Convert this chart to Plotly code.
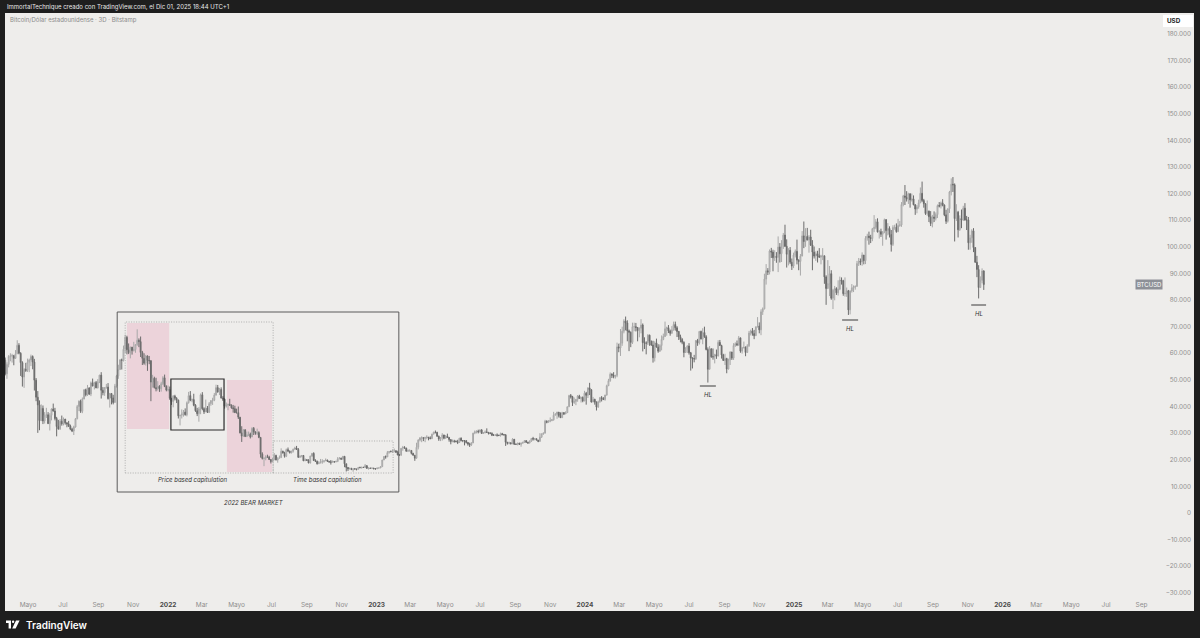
import pandas as pd
import plotly.graph_objects as go

# ---------------- DATA (BTC/USD, Bitstamp, 3-day candles, values in thousands USD) -------------
first_open = 58.2

close_2021 = [57.4, 52.3, 55.8, 58.8, 59.0,
              59.1, 58.1, 59.8, 63.0, 60.0, 56.5, 51.1, 54.0, 53.6, 56.6,
              57.5, 58.8, 56.7, 49.9, 43.5, 40.6, 34.7, 39.3, 34.6, 36.7,
              36.9, 33.6, 36.7, 39.1, 38.3, 35.5, 32.5, 31.6, 34.5, 33.5,
              35.3, 33.9, 33.5, 32.7, 31.5, 30.8, 32.3, 35.4, 40.0, 42.0,
              38.2, 42.8, 46.3, 44.4, 47.0, 44.7, 48.9, 47.7, 49.0, 47.0, 49.3,
              51.8, 46.1, 45.2, 47.1, 47.3, 43.0, 44.9, 43.2, 41.5, 47.7,
              51.5, 53.9, 57.5, 57.4, 61.5, 66.0, 61.3, 60.3, 62.3, 61.0,
              61.4, 63.3, 64.9, 64.4, 60.3, 58.1, 56.3, 59.0, 57.3, 57.2,
              49.2, 50.6, 47.1, 46.7, 47.6, 46.7, 48.6, 50.8, 47.5, 46.2]
high_2021 = [59.5, 58.4, 56.6, 59.3, 60.0,
             59.8, 59.4, 61.2, 64.9, 63.8, 60.4, 57.0, 54.4, 56.4, 58.0,
             58.0, 59.5, 59.2, 57.9, 50.7, 45.8, 42.3, 40.8, 40.4, 37.9,
             39.5, 37.9, 37.5, 39.3, 41.1, 39.5, 36.1, 35.0, 35.3, 36.6,
             35.9, 35.1, 34.0, 34.6, 33.2, 32.0, 32.8, 35.7, 40.6, 42.3,
             42.6, 43.4, 46.5, 46.7, 48.1, 47.2, 49.4, 50.5, 49.3, 49.6, 50.3,
             51.9, 52.9, 47.3, 47.2, 48.5, 48.8, 45.1, 45.0, 44.4, 48.5,
             51.9, 55.7, 57.8, 58.0, 62.9, 67.0, 66.6, 63.7, 62.5, 62.4,
             64.3, 63.3, 69.0, 65.6, 66.3, 60.9, 60.0, 59.4, 59.2, 59.0,
             57.4, 51.9, 51.2, 50.8, 49.5, 48.0, 49.3, 51.4, 52.0, 48.0]
low_2021 = [56.3, 51.7, 50.4, 54.7, 57.0,
            56.5, 55.5, 57.9, 59.9, 59.6, 51.5, 47.5, 47.0, 53.0, 53.0,
            52.9, 55.2, 54.0, 46.0, 42.0, 30.1, 31.1, 34.6, 33.4, 33.6,
            35.7, 33.4, 31.0, 34.8, 38.1, 34.8, 28.8, 31.3, 31.2, 32.8,
            32.9, 33.2, 32.2, 32.3, 31.1, 30.4, 29.3, 32.1, 35.2, 38.3,
            37.6, 37.5, 42.8, 43.8, 44.0, 44.3, 43.9, 47.6, 46.4, 46.9, 46.8,
            48.8, 43.0, 44.2, 44.0, 46.7, 42.6, 39.6, 40.8, 40.8, 41.5,
            47.1, 50.4, 53.7, 53.9, 56.9, 60.1, 59.6, 59.7, 58.1, 59.5,
            60.7, 60.2, 62.8, 62.3, 58.6, 55.6, 55.7, 55.4, 53.4, 55.9,
            42.0, 47.1, 46.8, 45.7, 46.0, 45.5, 45.6, 48.1, 47.3, 45.7]

close_2022 = [46.4, 43.1, 41.9, 43.9, 43.1, 42.4, 36.5, 36.7, 37.2, 37.9, 36.9,
              41.4, 44.1, 42.4, 42.6, 40.5, 38.4, 37.3, 39.1, 44.4,
              39.2, 38.0, 39.4, 37.8, 41.1, 42.2, 42.4, 44.3, 47.1, 45.5,
              46.4, 43.2, 42.8, 40.1, 40.5, 40.8, 40.5, 39.5, 39.2, 37.7,
              37.7, 36.0, 30.1, 28.9, 31.3, 28.7, 29.4, 29.6, 28.6, 31.8, 30.5,
              29.9, 30.2, 28.4, 22.1, 20.5, 20.6, 21.1, 21.0, 20.1, 19.3,
              20.2, 21.6, 19.9, 20.6, 20.8, 23.2, 22.5, 21.3, 23.8, 23.3,
              22.6, 23.2, 23.9, 24.4, 23.9, 20.9, 21.4, 21.6, 19.6, 20.0,
              19.8, 18.8, 21.4, 22.4, 19.7, 19.4, 18.5, 18.9, 19.1, 19.4,
              19.6, 19.9, 19.4, 19.2, 19.1, 19.3, 19.2, 19.3, 20.3, 20.6, 20.2,
              21.3, 18.5, 17.1, 16.6, 16.7, 16.3, 16.6, 16.5, 16.4, 17.1,
              17.0, 17.2, 17.1, 17.8, 16.8, 16.9, 16.8, 16.9, 16.6, 16.6]
high_2022 = [47.9, 47.5, 43.1, 44.3, 44.4, 43.5, 42.6, 36.8, 38.9, 38.7, 39.3,
             41.9, 45.5, 45.8, 43.0, 44.8, 40.9, 39.5, 39.8, 44.9,
             45.4, 39.7, 42.6, 40.2, 41.7, 42.4, 43.3, 45.1, 48.2, 48.1,
             47.0, 47.2, 43.9, 43.0, 41.5, 41.1, 42.9, 40.8, 40.6, 40.3,
             39.2, 40.0, 36.0, 32.6, 31.4, 31.3, 30.6, 30.6, 30.2, 32.2, 32.3,
             30.6, 31.7, 30.7, 28.5, 22.8, 20.8, 21.7, 21.9, 21.5, 20.1,
             20.7, 22.5, 21.9, 20.9, 21.6, 24.3, 23.4, 23.0, 24.2, 24.6,
             23.4, 23.4, 24.2, 24.9, 25.2, 24.4, 21.6, 21.8, 21.8, 20.5,
             20.2, 20.2, 21.5, 22.5, 22.8, 20.2, 19.7, 19.5, 20.3, 20.2,
             19.7, 20.5, 20.0, 19.5, 19.9, 19.7, 19.3, 19.7, 21.0, 21.0, 20.8,
             21.4, 21.3, 18.5, 17.2, 17.1, 17.0, 16.7, 16.8, 16.6, 17.3,
             17.4, 17.3, 17.3, 18.4, 17.8, 17.0, 16.9, 17.0, 16.9, 16.7]
low_2022 = [45.7, 42.5, 40.6, 39.7, 42.3, 41.3, 35.5, 32.9, 35.5, 36.2, 36.6,
            36.3, 41.1, 42.0, 41.6, 40.1, 38.0, 36.4, 34.3, 37.1,
            38.6, 37.2, 38.0, 37.6, 37.6, 40.3, 40.6, 42.0, 44.1, 45.2,
            44.3, 43.0, 42.1, 39.2, 39.6, 38.6, 40.3, 39.2, 37.7, 37.6,
            37.4, 35.3, 29.9, 26.7, 28.7, 28.6, 28.7, 28.9, 28.0, 28.5, 29.3,
            29.4, 29.3, 28.1, 20.8, 20.1, 17.6, 19.8, 20.9, 19.9, 18.6,
            19.1, 19.8, 19.8, 18.9, 20.5, 20.8, 22.4, 20.8, 21.0, 22.9,
            22.4, 22.4, 22.7, 23.9, 23.7, 20.8, 20.8, 20.9, 19.6, 19.6,
            19.6, 18.7, 18.6, 21.1, 19.6, 19.3, 18.2, 18.5, 18.6, 18.5,
            18.9, 19.8, 19.3, 18.9, 18.2, 19.1, 18.9, 19.2, 19.3, 20.2, 20.1,
            20.1, 17.2, 15.6, 15.8, 16.4, 16.3, 15.5, 16.4, 16.0, 16.4,
            16.9, 16.7, 17.0, 16.9, 16.6, 16.3, 16.7, 16.8, 16.5, 16.3]

close_2023 = [16.9, 16.9, 17.4, 19.9, 21.2, 21.1, 22.7, 23.1, 23.0, 23.1,
              23.4, 22.8, 21.8, 21.8, 24.3, 24.6, 24.4, 23.2, 23.5, 23.5,
              22.4, 21.7, 20.6, 24.7, 27.4, 28.2, 28.3, 28.0, 28.4, 28.5,
              28.2, 27.9, 29.6, 30.4, 30.3, 28.8, 27.8, 28.3, 29.3, 28.1,
              28.8, 28.4, 27.6, 26.8, 27.0, 26.9, 26.8, 26.5, 28.1, 27.2,
              27.2, 27.2, 26.5, 25.9, 25.6, 26.3, 30.0, 30.5, 30.7, 30.5,
              31.2, 29.9, 30.1, 30.4, 30.3, 29.9, 29.9, 29.2, 29.2, 29.3, 29.2,
              29.1, 29.8, 29.4, 29.4, 26.6, 26.2, 26.4, 26.0, 27.7, 25.8,
              25.8, 26.2, 25.8, 26.2, 26.5, 27.2, 26.6, 26.3, 27.0, 28.0,
              27.8, 27.9, 27.4, 26.9, 28.5, 29.7, 30.0, 34.5, 34.1, 34.6,
              34.7, 35.0, 36.7, 37.1, 37.9, 36.6, 35.8, 37.7, 37.2, 37.7,
              39.9, 44.1, 43.7, 41.5, 41.9, 42.7, 43.9, 43.0, 43.4, 42.1, 45.0]
high_2023 = [17.0, 17.0, 17.5, 20.0, 21.4, 21.6, 23.3, 23.2, 23.5, 23.9,
             24.2, 23.5, 23.4, 22.1, 24.4, 25.2, 25.1, 24.5, 23.9, 23.9,
             23.5, 22.6, 21.8, 26.4, 27.7, 28.5, 28.8, 28.4, 28.6, 29.2,
             28.5, 28.8, 29.8, 30.5, 31.0, 30.5, 29.1, 28.4, 30.0, 29.4,
             29.3, 29.8, 28.5, 27.6, 27.6, 27.5, 27.3, 27.5, 28.2, 28.4,
             27.3, 27.4, 27.1, 26.6, 26.4, 26.6, 30.1, 31.0, 31.0, 31.3,
             31.4, 31.5, 30.4, 31.0, 31.8, 30.4, 30.4, 30.3, 29.7, 29.5, 29.9,
             29.4, 30.2, 30.1, 29.7, 29.5, 26.6, 26.8, 26.5, 28.1, 27.8,
             26.1, 26.4, 26.4, 26.5, 26.8, 27.4, 27.2, 26.7, 27.3, 28.1,
             28.6, 28.1, 28.0, 27.4, 30.0, 29.9, 30.2, 35.0, 34.8, 34.8,
             35.9, 35.3, 38.0, 37.5, 38.0, 37.9, 37.8, 38.0, 37.9, 38.2,
             40.0, 44.4, 44.7, 44.0, 43.4, 42.8, 44.3, 44.4, 43.7, 43.8, 45.9]
low_2023 = [16.6, 16.8, 16.9, 17.3, 19.9, 20.4, 21.0, 22.3, 22.9, 22.6,
            22.8, 22.6, 21.7, 21.4, 21.4, 23.4, 24.2, 23.1, 22.9, 23.0,
            22.0, 21.6, 19.6, 20.4, 23.9, 26.9, 26.6, 27.0, 26.6, 27.7,
            27.3, 27.8, 27.9, 29.6, 29.9, 28.7, 27.1, 27.0, 27.2, 27.7,
            27.9, 28.3, 26.8, 25.8, 26.6, 26.4, 26.6, 25.9, 26.3, 26.9,
            26.6, 25.4, 26.1, 25.3, 24.8, 25.2, 26.3, 29.6, 29.9, 29.9,
            30.2, 29.8, 29.8, 30.0, 30.2, 29.5, 29.6, 28.9, 29.1, 29.1, 28.7,
            28.9, 28.7, 29.3, 29.1, 25.2, 25.7, 25.8, 25.8, 25.9, 25.6,
            25.6, 25.4, 25.6, 24.9, 26.1, 26.4, 26.3, 26.0, 26.1, 26.7,
            27.2, 27.3, 27.3, 26.6, 26.8, 28.2, 29.4, 29.9, 33.7, 34.0,
            34.1, 34.5, 34.7, 36.7, 35.4, 35.9, 35.7, 35.8, 36.8, 37.2,
            37.6, 39.9, 43.0, 40.2, 41.0, 40.5, 41.8, 42.9, 41.5, 41.6, 42.0]

close_2024 = [44.2, 47.0, 46.3, 41.7, 42.7, 41.7, 39.8, 41.8, 43.3, 43.1,
              42.6, 44.3, 47.8, 49.7, 52.1, 51.8, 51.3, 51.7, 62.4, 62.0,
              63.8, 68.3, 72.1, 71.4, 68.4, 67.9, 64.1, 70.0, 70.0, 69.7,
              68.5, 69.4, 70.6, 64.0, 63.8, 63.8, 66.8, 64.5, 63.1, 58.3,
              63.9, 62.3, 60.8, 62.9, 65.2, 66.3, 69.2, 69.6, 68.4, 67.5,
              68.8, 70.8, 69.6, 68.2, 66.2, 65.2, 64.1, 60.3, 61.6, 62.7,
              60.2, 58.2, 58.0, 57.9, 64.8, 63.9, 68.2, 65.4, 67.8, 66.2, 61.4,
              54.0, 61.7, 58.7, 58.7, 59.5, 59.0, 64.1, 62.9, 59.4, 57.3,
              58.0, 54.1, 57.6, 60.5, 58.2, 62.9, 63.6, 63.2, 65.8, 60.8,
              62.1, 62.2, 60.3, 62.8, 67.6, 68.4, 67.4, 66.6, 69.9, 70.2,
              68.8, 75.6, 76.7, 87.9, 91.0, 90.5, 98.4, 98.0, 95.9, 96.4,
              96.0, 99.9, 97.4, 100.1, 104.4, 100.2, 97.2, 98.7, 94.2, 92.8, 96.9]
high_2024 = [45.5, 47.2, 48.9, 46.5, 43.6, 42.9, 41.9, 42.2, 43.6, 43.9,
             43.5, 44.4, 48.2, 50.4, 52.8, 52.5, 52.9, 51.9, 64.0, 63.6,
             69.1, 70.0, 72.8, 73.8, 72.4, 68.9, 68.2, 71.5, 71.5, 71.4,
             69.3, 69.7, 72.8, 71.2, 66.0, 64.5, 67.2, 67.0, 64.8, 64.7,
             64.5, 65.5, 63.4, 63.4, 66.7, 67.4, 71.9, 70.0, 70.6, 68.9,
             70.2, 71.9, 71.9, 70.2, 68.4, 67.0, 65.7, 64.5, 62.3, 63.0,
             63.8, 60.5, 58.5, 59.4, 64.9, 65.4, 68.4, 68.5, 69.4, 70.0, 66.8,
             62.2, 62.7, 61.8, 61.8, 59.8, 61.4, 64.9, 65.0, 63.2, 59.8,
             59.8, 58.3, 58.0, 60.7, 60.5, 63.8, 64.1, 64.8, 66.5, 65.7,
             62.4, 64.4, 62.6, 63.4, 68.4, 68.9, 69.5, 68.8, 70.1, 73.6,
             71.6, 76.5, 77.2, 89.9, 93.5, 92.0, 99.0, 99.6, 98.9, 98.7,
             98.0, 103.9, 101.4, 102.5, 105.2, 108.3, 102.8, 99.5, 99.9, 95.6, 97.8]
low_2024 = [40.7, 43.2, 44.3, 41.5, 41.6, 40.7, 38.5, 39.5, 41.4, 41.9,
            42.5, 42.2, 44.1, 47.7, 49.3, 50.7, 50.6, 50.5, 51.0, 60.4,
            59.0, 62.8, 67.5, 68.6, 64.5, 60.8, 62.3, 63.5, 68.3, 68.2,
            64.5, 66.0, 67.5, 60.7, 61.6, 59.6, 63.1, 62.8, 62.8, 56.5,
            56.9, 62.2, 60.2, 60.5, 61.1, 64.9, 66.1, 66.6, 67.6, 66.6,
            67.4, 68.5, 68.5, 66.1, 65.0, 64.1, 63.4, 58.5, 60.3, 60.1,
            59.5, 53.5, 54.3, 56.6, 57.5, 62.8, 63.3, 65.2, 63.4, 65.8, 61.1,
            49.0, 54.6, 58.3, 57.6, 56.2, 57.9, 58.8, 62.8, 58.0, 57.2,
            55.6, 52.5, 53.9, 55.6, 57.5, 57.5, 62.4, 62.7, 62.8, 60.2,
            59.9, 61.8, 58.9, 60.2, 62.4, 66.7, 66.6, 65.3, 66.6, 69.7,
            67.5, 66.8, 74.4, 76.5, 85.8, 89.4, 89.6, 95.8, 90.8, 94.7,
            94.0, 90.5, 94.1, 94.3, 99.2, 99.9, 92.2, 93.0, 93.5, 91.3, 92.0]

close_2025 = [98.3, 95.0, 94.5, 96.5, 104.1, 102.0, 103.9, 102.6, 103.7, 100.7,
              98.0, 96.5, 97.4, 96.6, 96.1, 96.6, 96.6, 88.7, 84.3,
              86.2, 89.9, 80.7, 83.7, 84.3, 82.7, 84.1, 87.5, 87.2, 82.4, 82.5,
              83.5, 76.3, 83.4, 84.5, 84.9, 85.1, 93.7, 94.6, 94.3, 96.9,
              94.8, 103.2, 104.0, 103.5, 103.1, 106.8, 107.3, 109.4, 105.6, 105.7,
              104.7, 105.6, 110.2, 106.1, 106.9, 104.6, 100.9, 107.3, 107.3, 105.7,
              108.0, 108.2, 115.9, 119.1, 118.6, 117.9, 119.9, 117.6, 118.0, 115.8,
              114.2, 115.0, 116.5, 120.1, 117.4, 116.2, 112.5, 113.4, 111.3, 108.8, 111.2,
              110.7, 112.1, 115.5, 115.3, 116.5, 115.7, 112.0, 109.6, 114.3, 120.6,
              123.5, 123.3, 110.6, 113.0, 106.4, 110.6, 110.1, 114.5, 110.1, 110.1,
              101.5, 103.4, 106.0, 99.7, 94.2, 91.5, 84.7, 87.4, 90.9, 85.8]
high_2025 = [99.0, 102.7, 95.3, 97.3, 105.9, 109.5, 107.0, 107.1, 104.4, 106.4,
             102.5, 100.1, 98.3, 98.5, 99.5, 97.0, 99.5, 96.7, 89.3,
             95.0, 92.8, 91.2, 84.2, 85.3, 84.8, 87.4, 88.8, 88.5, 87.6, 88.5,
             84.7, 83.8, 83.6, 86.0, 85.5, 85.5, 94.7, 95.8, 95.6, 97.9,
             96.9, 104.0, 104.9, 105.7, 104.5, 107.1, 111.9, 110.4, 110.7, 106.3,
             106.8, 105.9, 110.6, 110.4, 108.9, 107.7, 106.3, 108.1, 108.3, 108.8,
             110.5, 109.7, 116.8, 119.5, 123.2, 120.9, 120.3, 120.1, 120.0, 119.3,
             116.0, 115.7, 117.7, 122.3, 124.5, 118.0, 116.3, 117.4, 113.6, 113.4, 112.0,
             113.3, 112.9, 115.9, 116.8, 117.0, 117.9, 115.9, 113.9, 114.4, 121.0,
             125.7, 126.2, 123.8, 116.0, 113.5, 111.8, 114.0, 115.4, 116.4, 111.6,
             111.2, 104.5, 106.6, 107.0, 99.9, 96.6, 93.1, 88.9, 91.9, 91.2]
low_2025 = [96.0, 93.4, 91.2, 89.2, 96.5, 99.5, 100.0, 102.4, 97.8, 100.3,
            91.2, 95.6, 94.7, 94.1, 95.9, 93.4, 95.0, 86.1, 78.2,
            84.9, 81.5, 80.1, 76.6, 79.9, 81.9, 81.7, 83.7, 85.8, 81.6, 81.3,
            81.2, 74.4, 74.6, 82.8, 83.0, 83.9, 85.1, 92.8, 93.1, 92.9,
            93.4, 93.5, 102.3, 100.8, 101.4, 102.1, 105.5, 106.6, 105.4, 103.1,
            103.7, 100.4, 105.1, 102.7, 104.3, 103.5, 98.2, 100.3, 106.4, 105.3,
            105.5, 107.5, 107.5, 115.2, 115.7, 117.0, 116.1, 114.7, 117.0, 115.6,
            112.0, 112.6, 114.3, 116.5, 116.8, 114.7, 112.0, 111.7, 109.3, 107.8, 107.3,
            109.3, 109.9, 110.8, 114.8, 114.4, 115.2, 111.5, 108.6, 109.1, 112.7,
            119.3, 120.6, 102.0, 109.7, 103.5, 106.0, 107.0, 109.7, 109.8, 106.3,
            98.9, 98.9, 101.5, 98.0, 94.0, 88.6, 80.6, 84.7, 86.3, 83.8]

segment_starts = ["2021-03-19", "2022-01-01", "2023-01-02", "2024-01-03", "2025-01-03"]
segments = [(close_2021, high_2021, low_2021), (close_2022, high_2022, low_2022),
            (close_2023, high_2023, low_2023), (close_2024, high_2024, low_2024),
            (close_2025, high_2025, low_2025)]

x_tick_dates = ["2021-05-01", "2021-07-01", "2021-09-01", "2021-11-01",
                "2022-01-01", "2022-03-01", "2022-05-01", "2022-07-01", "2022-09-01", "2022-11-01",
                "2023-01-01", "2023-03-01", "2023-05-01", "2023-07-01", "2023-09-01", "2023-11-01",
                "2024-01-01", "2024-03-01", "2024-05-01", "2024-07-01", "2024-09-01", "2024-11-01",
                "2025-01-01", "2025-03-01", "2025-05-01", "2025-07-01", "2025-09-01", "2025-11-01",
                "2026-01-01", "2026-03-01", "2026-05-01", "2026-07-01", "2026-09-01"]
x_tick_labels = ["Mayo", "Jul", "Sep", "Nov",
                 "2022", "Mar", "Mayo", "Jul", "Sep", "Nov",
                 "2023", "Mar", "Mayo", "Jul", "Sep", "Nov",
                 "2024", "Mar", "Mayo", "Jul", "Sep", "Nov",
                 "2025", "Mar", "Mayo", "Jul", "Sep", "Nov",
                 "2026", "Mar", "Mayo", "Jul", "Sep"]
y_tick_values = [-30000, -20000, -10000, 0, 10000, 20000, 30000, 40000, 50000, 60000, 70000,
                 80000, 90000, 100000, 110000, 120000, 130000, 140000, 150000, 160000, 170000, 180000]

# ---------------- BUILD ----------------
dates, closes, highs, lows = [], [], [], []
for start, (c, h, l) in zip(segment_starts, segments):
    n = min(len(c), len(h), len(l))
    dates += list(pd.date_range(start, periods=n, freq="3D"))
    closes += c[:n]
    highs += h[:n]
    lows += l[:n]
opens = [first_open] + closes[:-1]
K = 1000.0
o = [v * K for v in opens]
c = [v * K for v in closes]
h = [max(a, b, x) * K for a, b, x in zip(highs, opens, closes)]
l = [min(a, b, x) * K for a, b, x in zip(lows, opens, closes)]

BG = "#eeedeb"
DARK = "#1e1e1e"
FONT = "Inter, Roboto, sans-serif"

fig = go.Figure(go.Candlestick(
    x=dates, open=o, high=h, low=l, close=c,
    increasing=dict(line=dict(color="#a8a8a8", width=1), fillcolor="#dadada"),
    decreasing=dict(line=dict(color="#6c6c6c", width=1), fillcolor="#6c6c6c"),
    whiskerwidth=0, hoverinfo="skip", showlegend=False))

def fmt(v):
    s = f"{abs(v):,}".replace(",", ".")
    return ("\u2212" + s) if v < 0 else s

x_text = []
for t in x_tick_labels:
    if t.isdigit():
        x_text.append(f'<span style="color:#4a4a4a"><b>{t}</b></span>')
    else:
        x_text.append(t)

L, R, T, B = 5, 1194, 13, 611
def px(xp):
    return (xp - L) / (R - L)
def py(yp):
    return (B - yp) / (B - T)

DOT = "1px,1.5px"
shapes = []
# pink capitulation zones
shapes.append(dict(type="rect", xref="x", yref="y", x0="2021-10-21", x1="2022-01-03", y0=31555, y1=71375,
                   fillcolor="#ecd3da", line=dict(width=0), layer="below"))
shapes.append(dict(type="rect", xref="x", yref="y", x0="2022-04-14", x1="2022-07-02", y0=15402, y1=49962,
                   fillcolor="#ecd3da", line=dict(width=0), layer="below"))
# dotted boxes
shapes.append(dict(type="rect", xref="x", yref="y", x0="2021-10-18", x1="2022-07-04", y0=15026, y1=71750,
                   line=dict(color="#a0a0a0", width=0.8, dash=DOT), layer="above"))
shapes.append(dict(type="rect", xref="x", yref="y", x0="2022-07-04", x1="2023-01-30", y0=15026, y1=27047,
                   line=dict(color="#a0a0a0", width=0.8, dash=DOT), layer="above"))
# black consolidation box
shapes.append(dict(type="rect", xref="x", yref="y", x0="2022-01-06", x1="2022-04-09", y0=31180, y1=50338,
                   line=dict(color="#2b2b2b", width=1.2), layer="above"))
# big bear-market box
shapes.append(dict(type="rect", xref="x", yref="y", x0="2021-10-04", x1="2023-02-09", y0=7889, y1=75507,
                   line=dict(color="#5a5a5a", width=1), layer="above"))
# HL lines
for x0, x1, yv in [("2024-07-20", "2024-08-17", 47708), ("2025-03-26", "2025-04-23", 72502),
                   ("2025-11-07", "2025-12-03", 78137)]:
    shapes.append(dict(type="line", xref="x", yref="y", x0=x0, x1=x1, y0=yv, y1=yv,
                       line=dict(color="#3a3a3a", width=1)))
# USD box
shapes.append(dict(type="rect", xref="paper", yref="paper", x0=px(1163), x1=px(1193), y0=py(27), y1=py(15),
                   fillcolor="#ffffff", line=dict(width=0), layer="above"))
# TradingView logo (footer)
def path(pts):
    return "M " + " L ".join(f"{px(a):.5f},{py(b):.5f}" for a, b in pts) + " Z"
logo_col = "#ffffff"
LY = 620.5
shapes.append(dict(type="path", xref="paper", yref="paper",
                   path=path([(6, LY), (11, LY), (11, LY + 8), (8.6, LY + 8), (8.6, LY + 2.4), (6, LY + 2.4)]),
                   fillcolor=logo_col, line=dict(width=0)))
shapes.append(dict(type="circle", xref="paper", yref="paper", x0=px(11.9), x1=px(14.3), y0=py(LY + 2.4), y1=py(LY),
                   fillcolor=logo_col, line=dict(width=0)))
shapes.append(dict(type="path", xref="paper", yref="paper",
                   path=path([(16.0, LY), (19.6, LY), (15.6, LY + 8), (12.2, LY + 8)]),
                   fillcolor=logo_col, line=dict(width=0)))

ann = []
it = dict(family=FONT, size=6, color="#333333", style="italic")
ann.append(dict(x="2022-02-12", y=12397, xref="x", yref="y", text="Price based capitulation", showarrow=False, font=it))
ann.append(dict(x="2022-10-08", y=12397, xref="x", yref="y", text="Time based capitulation", showarrow=False, font=it))
ann.append(dict(x="2022-05-31", y=4132, xref="x", yref="y", text="2022 BEAR MARKET", showarrow=False, font=it))
for xd, yv in [("2024-08-03", 44703), ("2025-04-09", 69497), ("2025-11-20", 75131)]:
    ann.append(dict(x=xd, y=yv, xref="x", yref="y", text="HL", showarrow=False, font=it))
# header texts
ann.append(dict(x=px(5), y=py(7), xref="paper", yref="paper", xanchor="left", yanchor="middle", showarrow=False,
                text="ImmortalTechnique creado con TradingView.com, el Dic 01, 2025 18:44 UTC+1",
                font=dict(family=FONT, size=6, color="#e8e8e8")))
ann.append(dict(x=px(8), y=py(20), xref="paper", yref="paper", xanchor="left", yanchor="middle", showarrow=False,
                text="Bitcoin/Dólar estadounidense · 3D · Bitstamp",
                font=dict(family=FONT, size=6, color="#8a8a8a")))
ann.append(dict(x=px(1174), y=py(21), xref="paper", yref="paper", xanchor="center", yanchor="middle", showarrow=False,
                text="<b>USD</b>", font=dict(family=FONT, size=6.3, color="#222222")))
ann.append(dict(x=px(1148.5), y=c[-1], xref="paper", yref="y", xanchor="center", yanchor="middle", showarrow=False,
                text="BTCUSD", bgcolor="#8d9097", borderpad=1,
                font=dict(family=FONT, size=6, color="#ffffff")))
ann.append(dict(x=px(23.5), y=py(LY + 4), xref="paper", yref="paper", xanchor="left", yanchor="middle", showarrow=False,
                text="TradingView", font=dict(family=FONT, size=10, color="#ffffff", weight=600)))

fig.update_layout(
    width=1200, height=638,
    margin=dict(l=L, r=1200 - R, t=T, b=638 - B),
    paper_bgcolor=DARK, plot_bgcolor=BG,
    showlegend=False,
    shapes=shapes, annotations=ann,
    font=dict(family=FONT),
    xaxis=dict(type="date", range=["2021-03-21 14:00", "2026-12-02"],
               tickvals=x_tick_dates, ticktext=x_text, ticklabelposition="inside",
               tickfont=dict(size=6.5, color="#8e8e8e"), ticks="",
               showgrid=False, zeroline=False, showline=False,
               rangeslider=dict(visible=False), fixedrange=True),
    yaxis=dict(side="right", range=[-36814, 187829],
               tickvals=y_tick_values, ticktext=[fmt(v) for v in y_tick_values],
               ticklabelposition="inside", tickfont=dict(size=6.3, color="#8e8e8e"), ticks="",
               showgrid=False, zeroline=False, showline=False, fixedrange=True),
)

fig.write_html("out.html", config={"displayModeBar": False, "staticPlot": True},
               post_script="document.body.style.margin='0';document.body.style.padding='0';"
                           "document.body.style.overflow='hidden';document.body.style.background='#1e1e1e';")
